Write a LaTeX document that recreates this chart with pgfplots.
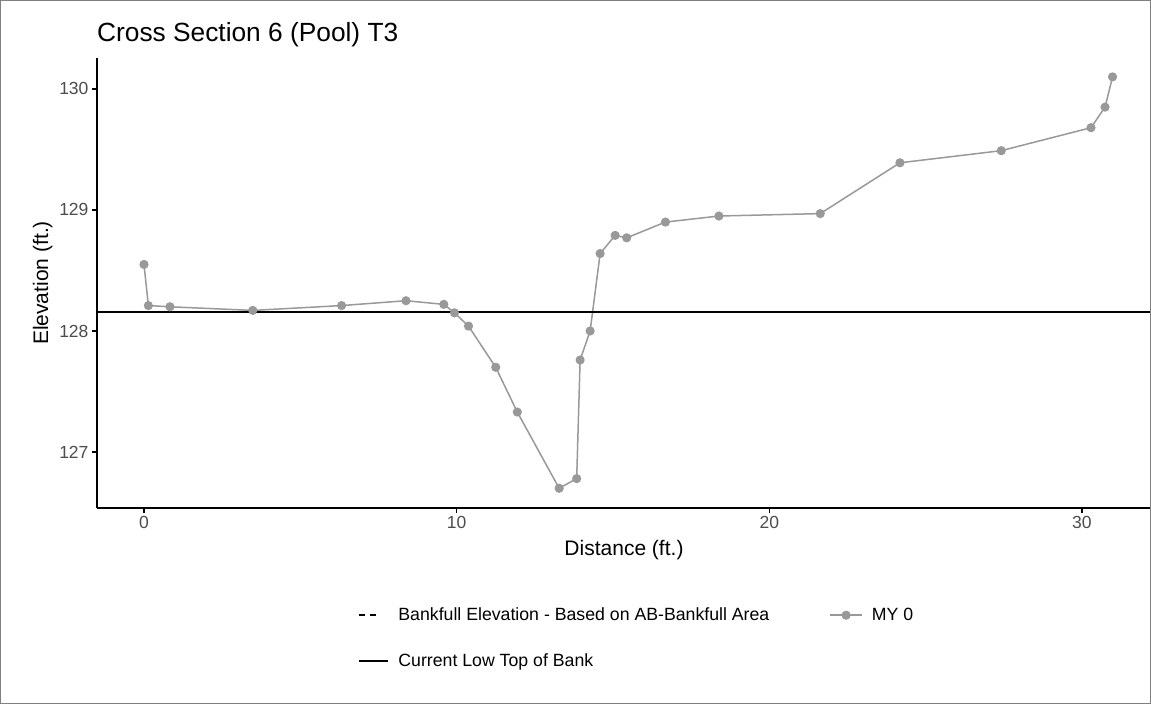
\documentclass[border=0pt]{standalone}
\usepackage{fontspec}
\setmainfont{Liberation Sans}
\usepackage{pgfplots}
\pgfplotsset{compat=1.18}
\definecolor{tickgray}{HTML}{4D4D4D}
\definecolor{ptgray}{HTML}{999999}
\definecolor{framegray}{HTML}{808080}
\pgfplotsset{
  dashline/.style={legend image code/.code={\draw[##1] (0pt,0pt) -- (17pt,0pt); \path (29pt,0pt);}},
  shortline/.style={legend image code/.code={\draw[##1] (0pt,0pt) -- (29pt,0pt);}},
  markline/.style={legend image code/.code={\draw[mark repeat=2,mark phase=2,##1] plot coordinates {(0pt,0pt) (16pt,0pt) (32pt,0pt)};}},
}

\pgfplotstableread{
x y
0.00 128.55
0.14 128.21
0.83 128.20
3.48 128.17
6.32 128.21
8.38 128.25
9.59 128.22
9.93 128.15
10.38 128.04
11.25 127.70
11.94 127.33
13.28 126.70
13.84 126.78
13.95 127.76
14.27 128.00
14.59 128.64
15.07 128.79
15.44 128.77
16.68 128.90
18.39 128.95
21.63 128.97
24.18 129.39
27.42 129.49
30.29 129.68
30.74 129.85
30.98 130.10
}\xsdata

\begin{document}
\begin{tikzpicture}[x=1pt,y=1pt]
% pixel (px,py) -> (px-97, 508-py)
\useasboundingbox (-97,-196) rectangle (1054,508);
\fill[white] (-97,-196) rectangle (1054,508);
\begin{axis}[
  width=1054pt, height=450pt, scale only axis,
  xmin=-1.503, xmax=32.21, ymin=126.537, ymax=130.256,
  axis x line*=bottom, axis y line*=left,
  axis line style={line width=1.5pt, black, -},
  xtick={0,10,20,30}, ytick={127,128,129,130},
  tick align=outside, major tick length=5pt,
  tick style={line width=1.5pt, black},
  ticklabel style={font=\fontsize{17.5}{20}\selectfont, text=tickgray},
  /pgf/number format/assume math mode=true,
  xlabel={Distance (ft.)}, ylabel={Elevation (ft.)},
  label style={font=\fontsize{21}{25}\selectfont},
  xlabel style={yshift=-4pt},
  legend style={at={(axis description cs:0.245,-0.213)}, anchor=north west,
    draw=none, fill=none, font=\fontsize{17.7}{21}\selectfont,
    legend columns=2, row sep=27pt,
    /tikz/every odd column/.append style={column sep=7pt},
    /tikz/every even column/.append style={column sep=58pt}},
  legend cell align=left,
]
\addplot[ptgray, line width=1.5pt, mark=*, mark size=3.8pt, mark options={fill=ptgray, draw=ptgray}, forget plot] table[x=x,y=y] {\xsdata};
\addplot[black, line width=2.2pt, forget plot] coordinates {(-1.503,128.16) (32.21,128.16)};
\addlegendimage{black, line width=2pt, dash pattern=on 6pt off 5pt, dashline}
\addlegendentry{Bankfull Elevation - Based on AB-Bankfull Area}
\addlegendimage{ptgray, line width=1.5pt, mark=*, mark size=3.8pt, mark options={fill=ptgray, draw=ptgray}, markline}
\addlegendentry{MY 0}
\addlegendimage{black, line width=2pt, shortline}
\addlegendentry{Current Low Top of Bank}
\end{axis}
\node[anchor=base west, font=\fontsize{26.3}{30}\selectfont, inner sep=0pt] at (0,466) {Cross Section 6 (Pool) T3};
\draw[framegray, line width=1.5pt] (-96.25,-195.25) rectangle (1053.25,507.25);
\end{tikzpicture}
\end{document}
